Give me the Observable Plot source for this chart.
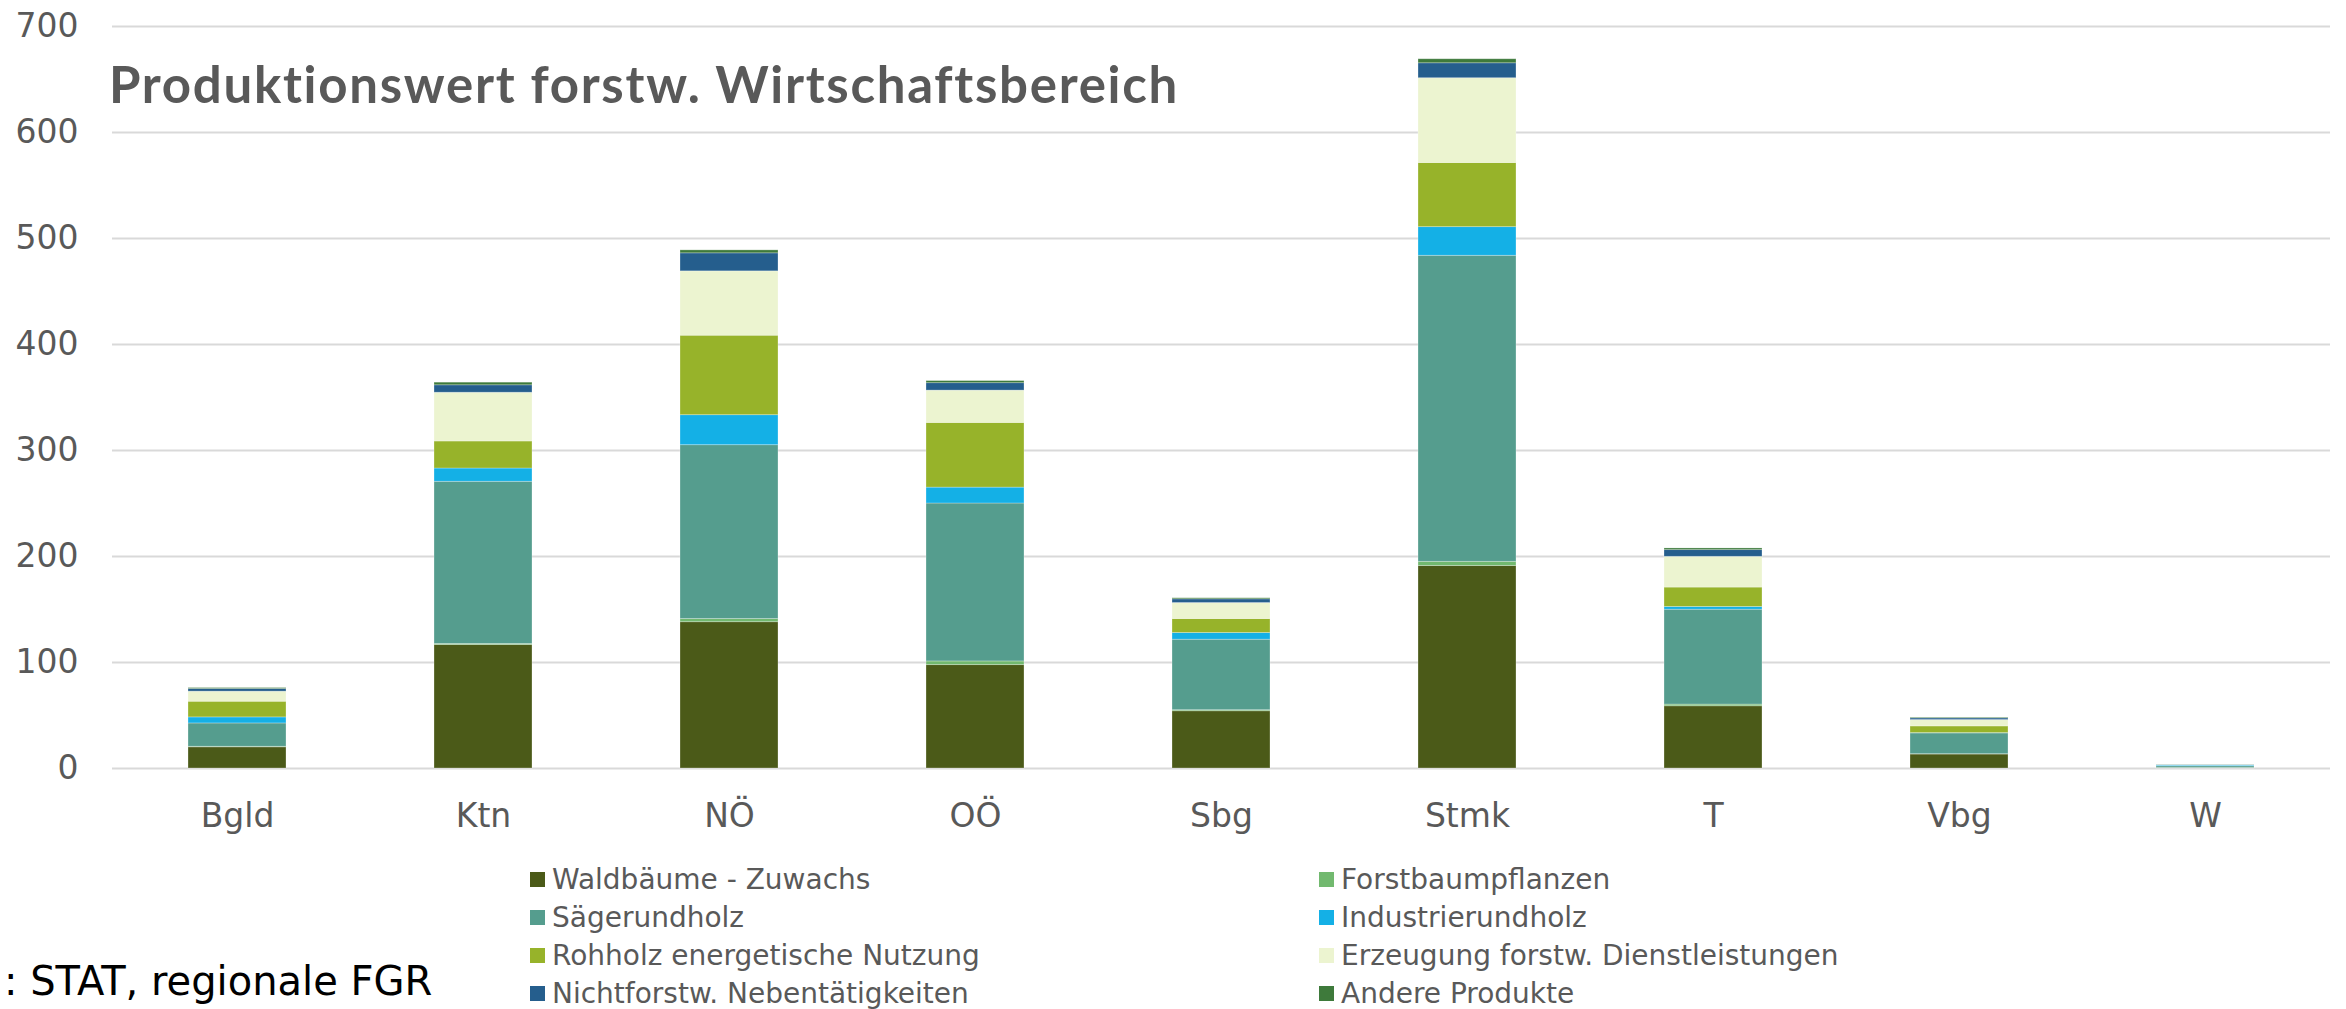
<!DOCTYPE html>
<html>
<head>
<meta charset="utf-8">
<script src="https://cdn.jsdelivr.net/npm/d3@7"></script>
<script src="https://cdn.jsdelivr.net/npm/@observablehq/plot@0.6"></script>
<style>
  html, body { margin: 0; padding: 0; background: #fff; }
  #wrap { position: relative; width: 2346px; height: 1009px; overflow: hidden; font-family: "DejaVu Sans", sans-serif; }
  #title { position: absolute; left: 109px; top: 58px; font-family: Lato, sans-serif; font-weight: 700; font-size: 51px; letter-spacing: 1.7px; color: #595959; white-space: nowrap; line-height: 1; }
  #source { position: absolute; left: 4px; top: 961px; font-size: 40px; color: #000; white-space: nowrap; line-height: 1; }
  #legend { position: absolute; left: 530px; top: 860px; display: grid; grid-template-columns: 789px 789px; grid-auto-rows: 38px; }
  .item { display: flex; align-items: center; font-size: 28px; color: #595959; white-space: nowrap; }
  .sw { width: 15px; height: 15px; margin-right: 7px; flex: none; }
</style>
</head>
<body>
<div id="wrap">
  <div id="chart"></div>
  <div id="title"></div>
  <div id="legend"></div>
  <div id="source"></div>
</div>
<script>
const titleText = "Produktionswert forstw. Wirtschaftsbereich";
const sourceText = ": STAT, regionale FGR";
const regions = ["Bgld", "Ktn", "NÖ", "OÖ", "Sbg", "Stmk", "T", "Vbg", "W"];
const seriesNames = [
  "Waldbäume - Zuwachs",
  "Forstbaumpflanzen",
  "Sägerundholz",
  "Industrierundholz",
  "Rohholz energetische Nutzung",
  "Erzeugung forstw. Dienstleistungen",
  "Nichtforstw. Nebentätigkeiten",
  "Andere Produkte"
];
const colors = ["#4b5a18", "#72b96f", "#559d8e", "#14b0e6", "#97b32a", "#ecf4d0", "#255e8d", "#3e7a3b"];
const yTicks = [0, 100, 200, 300, 400, 500, 600, 700];

const waldbaeume = [20, 116.5, 138, 97.5, 54, 191, 58.7, 13.2, 0.3];
const forstbaumpflanzen = [0.5, 1, 3, 3.5, 1, 4, 1.6, 0.3, 0.2];
const saegerundholz = [22, 153, 164, 149, 66.5, 288.7, 89.5, 19.6, 1.6];
const industrierundholz = [5.7, 12.5, 28.3, 15, 6.3, 27, 2.6, 0.3, 0.8];
const rohholz = [14.8, 25.5, 75, 61, 13.2, 60.5, 18.3, 6.3, 0.1];
const erzeugung = [9.5, 46, 60.7, 30.5, 15.1, 80, 29, 6, 0.4];
const nichtforstw = [2.5, 7, 17, 7, 3.5, 14.1, 6.3, 1.6, 0.2];
const andere = [0.9, 2.5, 2.8, 2, 1, 3.8, 1.6, 0.6, 0.1];

const seriesValues = [waldbaeume, forstbaumpflanzen, saegerundholz, industrierundholz, rohholz, erzeugung, nichtforstw, andere];
const data = [];
seriesNames.forEach((s, i) => regions.forEach((r, j) => data.push({region: r, series: s, value: seriesValues[i][j]})));

const chart = Plot.plot({
  width: 2346,
  height: 1009,
  marginLeft: 112,
  marginRight: 16,
  marginTop: 26,
  marginBottom: 241,
  style: {fontFamily: "DejaVu Sans, sans-serif", background: "transparent"},
  x: {domain: regions, paddingInner: 0.6, paddingOuter: 0.3, label: null},
  y: {domain: [0, 700], label: null},
  color: {domain: seriesNames, range: colors},
  marks: [
    Plot.ruleY(yTicks, {stroke: "#d9d9d9", strokeWidth: 2}),
    Plot.barY(data, {x: "region", y: "value", fill: "series", order: seriesNames, stroke: "#ffffff", strokeWidth: 0.8, strokeOpacity: 0.35}),
    Plot.axisY(yTicks, {tickSize: 0, tickPadding: 34, fontSize: 33, fill: "#595959", label: null}),
    Plot.axisX({tickSize: 0, tickPadding: 35, fontSize: 33, fill: "#595959", label: null})
  ]
});
document.getElementById("chart").appendChild(chart);
document.getElementById("title").textContent = titleText;
document.getElementById("source").textContent = sourceText;
const legend = document.getElementById("legend");
seriesNames.forEach((s, i) => {
  const it = document.createElement("div");
  it.className = "item";
  const sw = document.createElement("span");
  sw.className = "sw";
  sw.style.background = colors[i];
  it.appendChild(sw);
  it.appendChild(document.createTextNode(s));
  legend.appendChild(it);
});
</script>
</body>
</html>
